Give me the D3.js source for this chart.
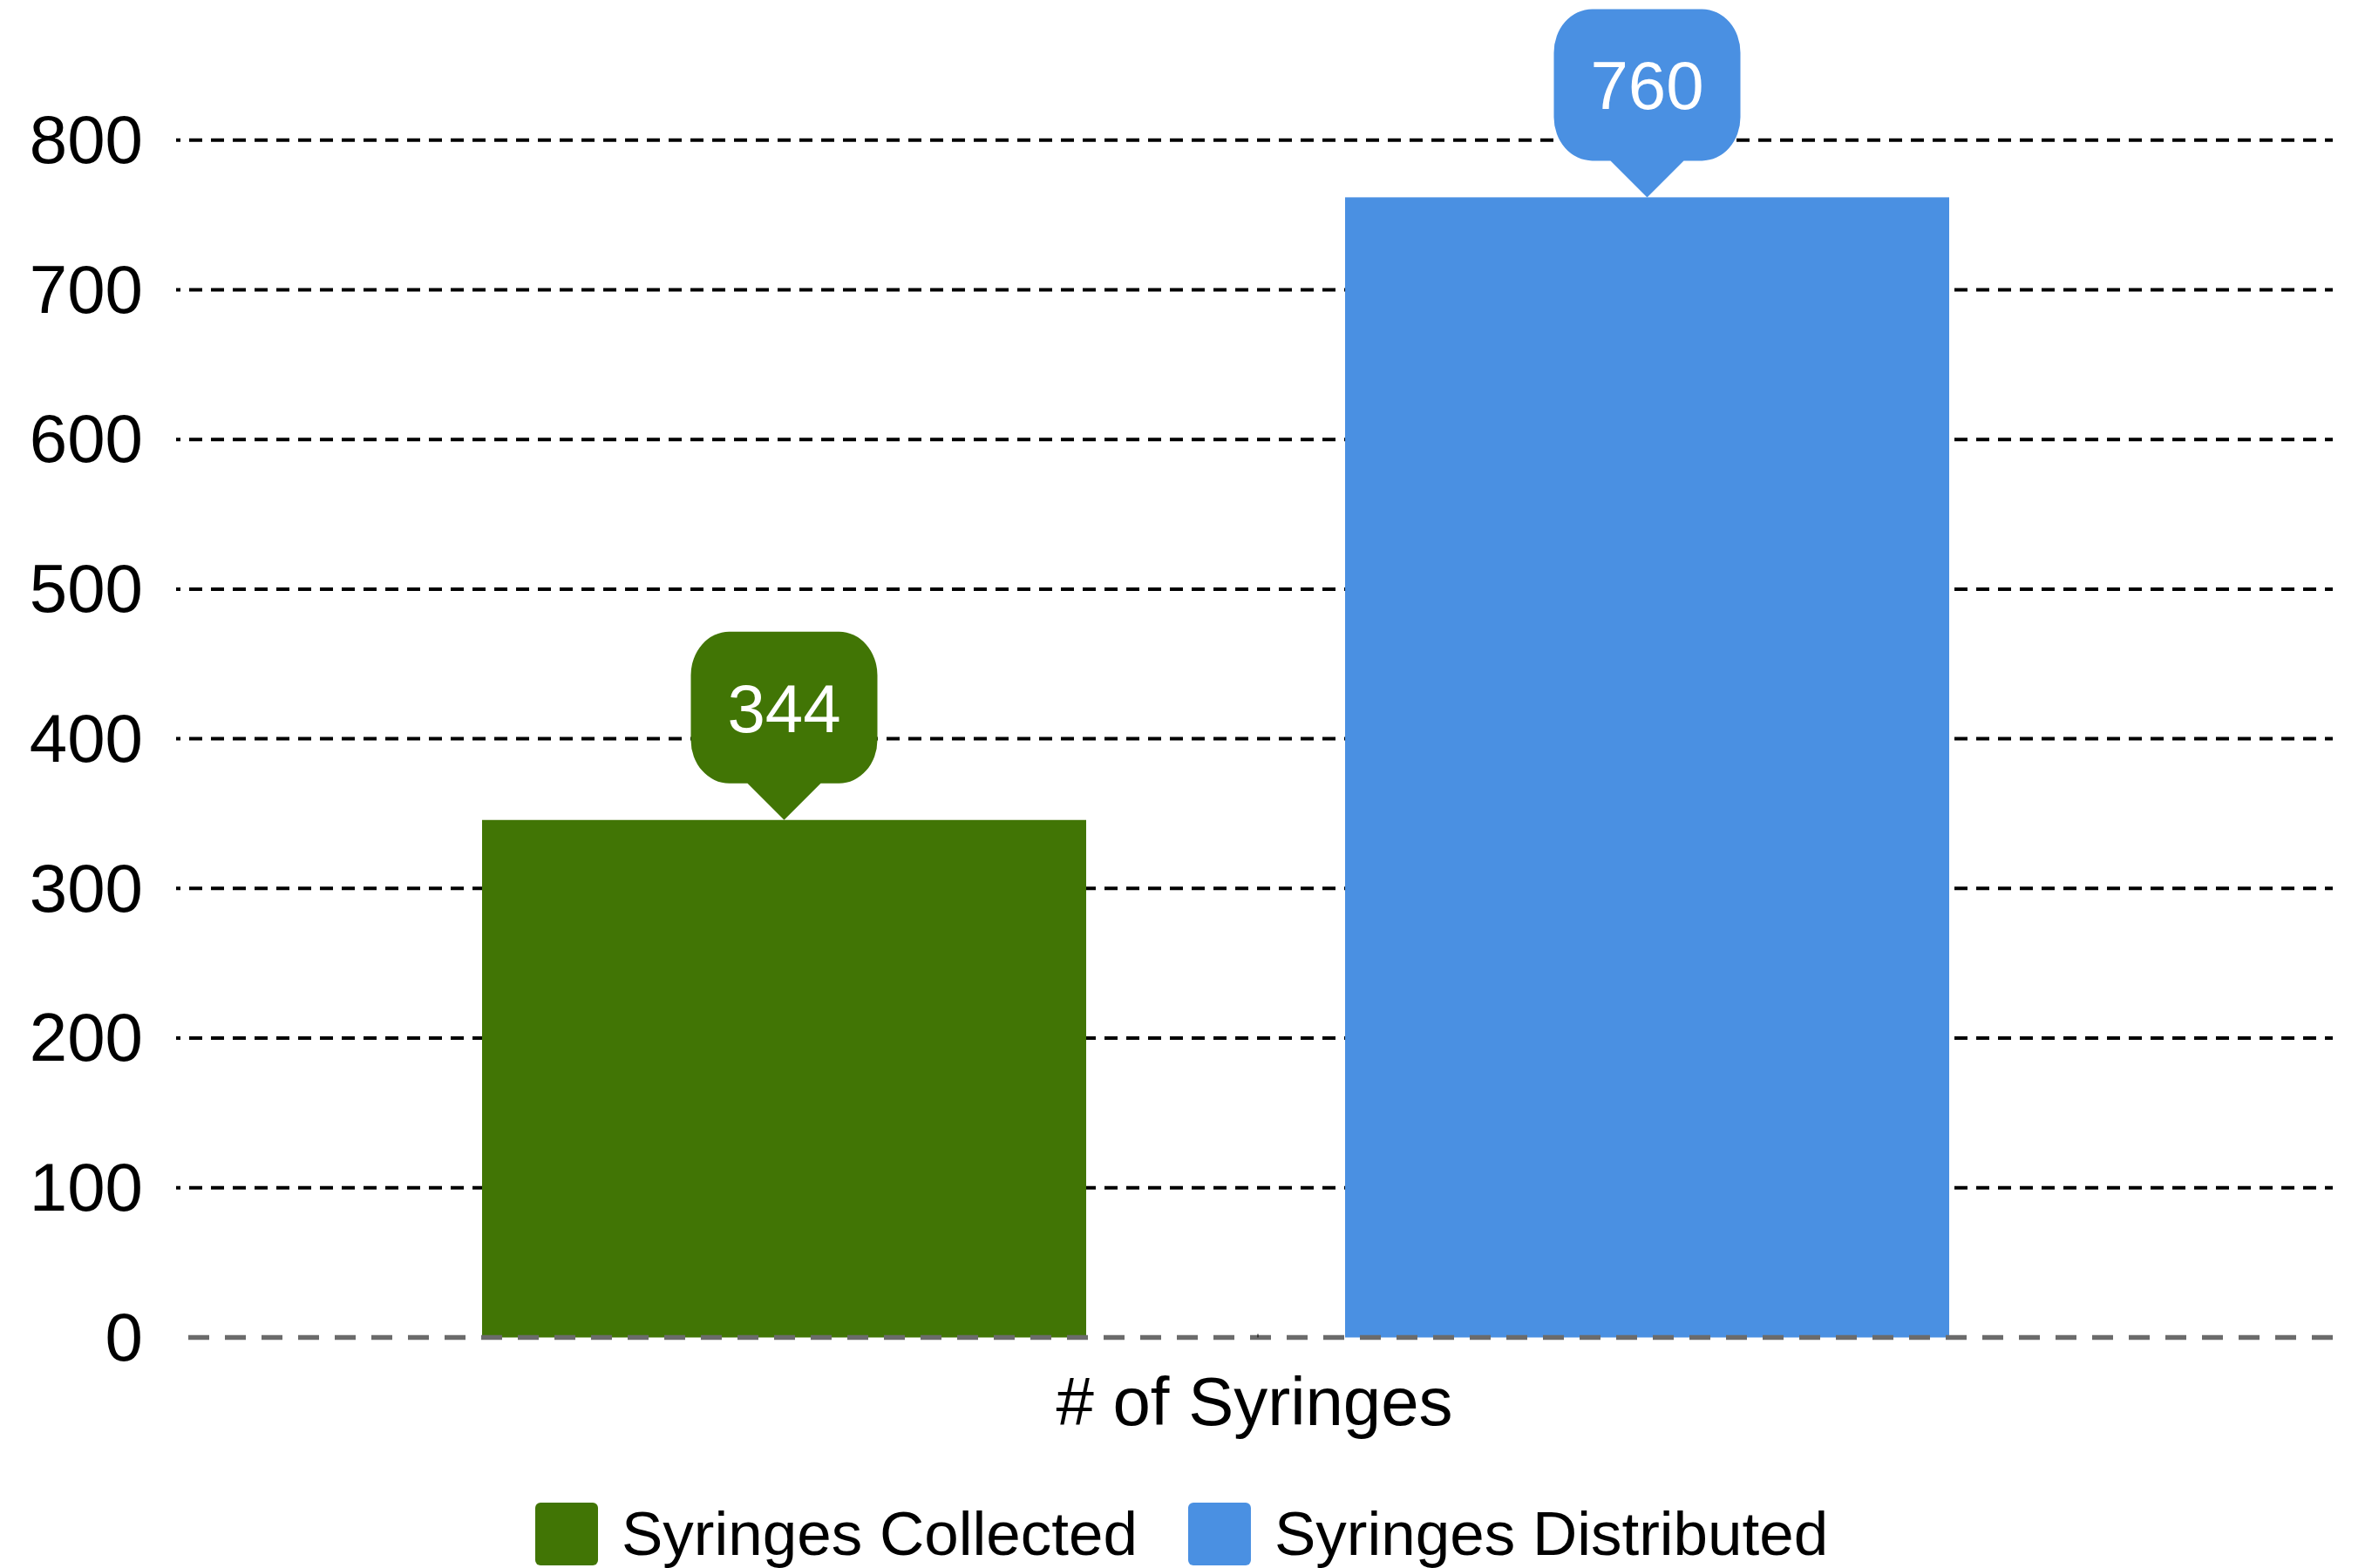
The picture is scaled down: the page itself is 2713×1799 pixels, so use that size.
<!DOCTYPE html>
<html>
<head>
<meta charset="utf-8">
<script src="https://cdn.jsdelivr.net/npm/d3@7"></script>
<style>
    body { margin: 0; background: #fff; }
    svg { display: block; }
    text { font-family: "Liberation Sans", Arial, sans-serif; }
</style>
</head>
<body>
<svg id="chart"></svg>
<script>
// Data
const category = "# of Syringes";
const seriesNames = ["Syringes Collected", "Syringes Distributed"];
const seriesValues = [344, 760];
const seriesColors = ["#417505", "#4A90E2"];
const yTicks = [0, 100, 200, 300, 400, 500, 600, 700, 800];

const width = 2713;
const height = 1799;

const svg = d3.select("#chart")
    .attr("width", width)
    .attr("height", height);

const plotLeft = 202, plotRight = 2676;

const y = d3.scaleLinear()
    .domain([0, 800])
    .range([1534.5, 160.7]);

const x = d3.scaleBand()
    .domain(seriesNames)
    .range([553, 2236])
    .paddingInner(0.3)
    .paddingOuter(0);

// Gridlines (dashed, black)
svg.selectAll(".grid")
    .data(yTicks.filter(d => d > 0))
    .enter()
    .append("line")
    .attr("class", "grid")
    .attr("x1", plotLeft)
    .attr("x2", plotRight)
    .attr("y1", d => y(d))
    .attr("y2", d => y(d))
    .attr("stroke", "#000")
    .attr("stroke-width", 4)
    .attr("stroke-dasharray", "15,10")
    .attr("stroke-dashoffset", 10);

// Y axis labels
const yAxis = d3.axisLeft(y).tickValues(yTicks).tickSize(0).tickPadding(0);
const yG = svg.append("g")
    .attr("transform", "translate(164,0)")
    .call(yAxis);
yG.select(".domain").remove();
yG.selectAll("text")
    .attr("font-family", "'Liberation Sans', Arial, sans-serif")
    .attr("font-size", 78)
    .attr("fill", "#000")
    .attr("dy", "0.33em");

// Bars (drawn a few px proud of the baseline, as in the original)
svg.selectAll(".bar")
    .data(seriesNames)
    .enter()
    .append("rect")
    .attr("class", "bar")
    .attr("x", d => x(d))
    .attr("width", x.bandwidth())
    .attr("y", (d, i) => y(seriesValues[i]) - 3)
    .attr("height", (d, i) => y(0) - y(seriesValues[i]) + 3)
    .attr("fill", (d, i) => seriesColors[i]);

// Baseline (dashed, gray)
svg.append("line")
    .attr("x1", plotLeft)
    .attr("x2", plotRight)
    .attr("y1", y(0))
    .attr("y2", y(0))
    .attr("stroke", "#6b6b6b")
    .attr("stroke-width", 5.5)
    .attr("stroke-dasharray", "24,18")
    .attr("stroke-dashoffset", 28);

// small category tick
svg.append("line")
    .attr("x1", 1443).attr("x2", 1443)
    .attr("y1", y(0) - 4).attr("y2", y(0))
    .attr("stroke", "#000")
    .attr("stroke-width", 1);

// Value balloons
const boxW = 214, boxH = 174, pointerH = 42, pointerHalf = 42, rx = 44, ry = 50;

function balloonPath(cx, tip) {
    const base = tip - pointerH;
    const top = base - boxH;
    const l = cx - boxW / 2, r = cx + boxW / 2;
    return `M${l + rx},${top}` +
        `L${r - rx},${top}` +
        `A${rx},${ry} 0 0 1 ${r},${top + ry}` +
        `L${r},${base - ry}` +
        `A${rx},${ry} 0 0 1 ${r - rx},${base}` +
        `L${cx + pointerHalf},${base}` +
        `L${cx},${tip}` +
        `L${cx - pointerHalf},${base}` +
        `L${l + rx},${base}` +
        `A${rx},${ry} 0 0 1 ${l},${base - ry}` +
        `L${l},${top + ry}` +
        `A${rx},${ry} 0 0 1 ${l + rx},${top}Z`;
}

const balloons = svg.selectAll(".balloon")
    .data(seriesNames)
    .enter()
    .append("g")
    .attr("class", "balloon");

balloons.append("path")
    .attr("d", (d, i) => balloonPath(x(d) + x.bandwidth() / 2, y(seriesValues[i]) - 3))
    .attr("fill", (d, i) => seriesColors[i]);

balloons.append("text")
    .attr("x", d => x(d) + x.bandwidth() / 2)
    .attr("y", (d, i) => y(seriesValues[i]) - 3 - pointerH - boxH / 2)
    .attr("dy", "0.36em")
    .attr("text-anchor", "middle")
    .attr("font-size", 78)
    .attr("fill", "#fff")
    .text((d, i) => seriesValues[i]);

// Category title
svg.append("text")
    .attr("x", (plotLeft + plotRight) / 2)
    .attr("y", 1635)
    .attr("text-anchor", "middle")
    .attr("font-size", 78)
    .attr("fill", "#000")
    .text(category);

// Legend
let lx = 614;
seriesNames.forEach((name, i) => {
    svg.append("rect")
        .attr("x", lx)
        .attr("y", 1724)
        .attr("width", 72)
        .attr("height", 72)
        .attr("rx", 6)
        .attr("fill", seriesColors[i]);
    const t = svg.append("text")
        .attr("x", lx + 99)
        .attr("y", 1784)
        .attr("font-size", 71)
        .attr("fill", "#000")
        .text(name);
    lx += 99 + t.node().getComputedTextLength() + 58;
});
</script>
</body>
</html>
